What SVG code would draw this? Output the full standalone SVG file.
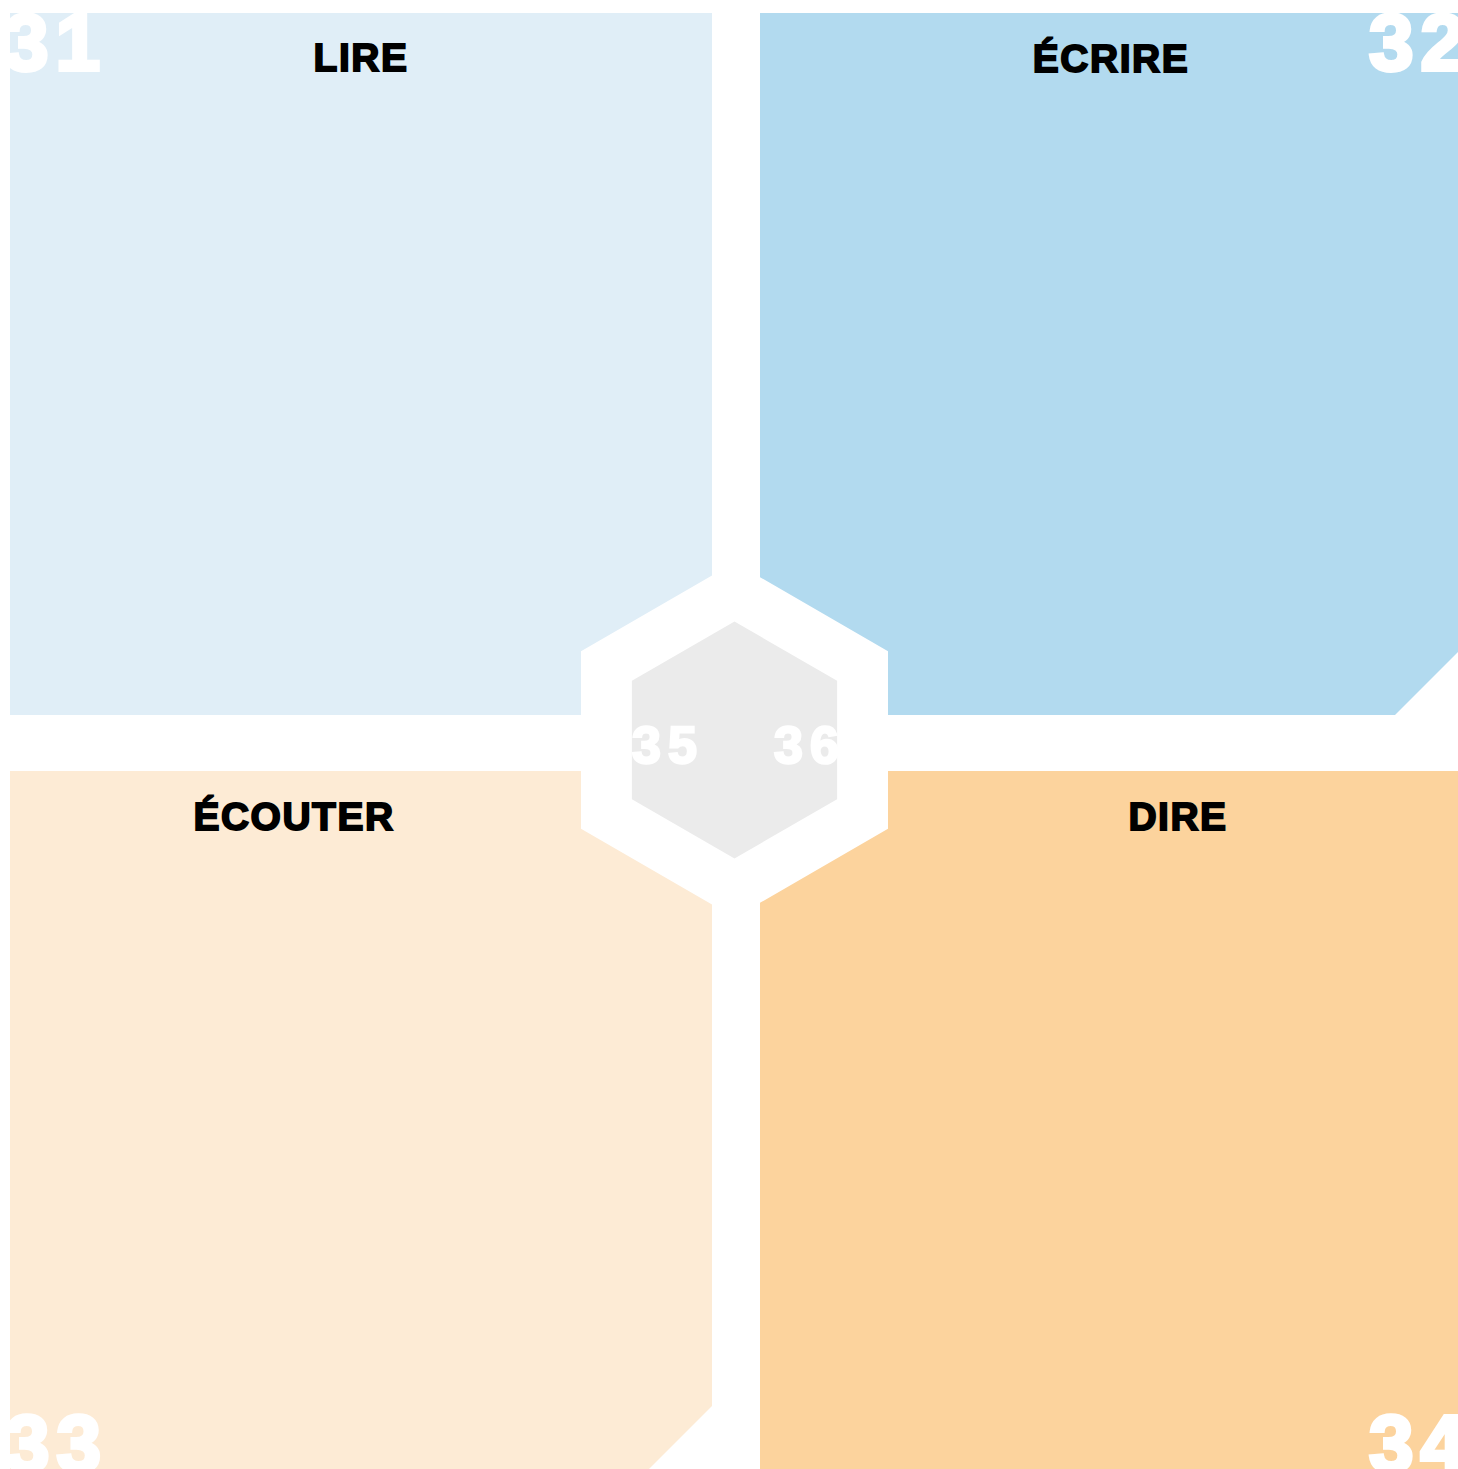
<svg xmlns="http://www.w3.org/2000/svg" width="1458" height="1469" viewBox="0 0 1458 1469">
<style>
.lbl{font-family:"Liberation Sans",Arial,sans-serif;font-weight:bold;font-size:39px;fill:#000;stroke:#000;stroke-width:1.8px;letter-spacing:1.5px;text-anchor:middle}
.num{font-family:"Liberation Sans",Arial,sans-serif;font-weight:bold;font-size:80px;fill:#fff;stroke:#fff;stroke-width:4px;letter-spacing:7px}
.numc{font-family:"Liberation Sans",Arial,sans-serif;font-weight:bold;font-size:52px;fill:#fff;stroke:#fff;stroke-width:2.5px;letter-spacing:7px}
</style>
<rect width="1458" height="1469" fill="#fff"/>
<g id="lire">
<path d="M10,13 H712 V575.6 L581,651.25 V715 H10 Z" fill="#E0EEF7"/>
<text class="num" x="4" y="70">31</text>
<text class="lbl" x="361" y="71">LIRE</text>
</g>
<g id="ecrire">
<path d="M760,13 H1458 V652 L1395,715 H888 V651.25 L760,577.2 Z" fill="#B2DAEF"/>
<text class="num" x="1369" y="70">32</text>
<text class="lbl" x="1111" y="72">ÉCRIRE</text>
</g>
<g id="ecouter">
<path d="M10,771 H581 V828.75 L712,904.4 V1406 L649,1469 H10 Z" fill="#FDEBD5"/>
<text class="num" x="5" y="1471">33</text>
<text class="lbl" x="294" y="830">ÉCOUTER</text>
</g>
<g id="dire">
<path d="M760,902.8 L888,828.75 V771 H1458 V1469 H760 Z" fill="#FCD39D"/>
<text class="num" x="1369" y="1471">34</text>
<text class="lbl" x="1178" y="830">DIRE</text>
</g>
<g id="centre">
<polygon points="734.5,621.5 837.1,680.75 837.1,799.25 734.5,858.5 631.9,799.25 631.9,680.75" fill="#EBEBEB"/>
<text class="numc" x="632" y="763">35</text>
<text class="numc" x="774" y="763">36</text>
</g>
<g id="connectors"/>
</svg>
